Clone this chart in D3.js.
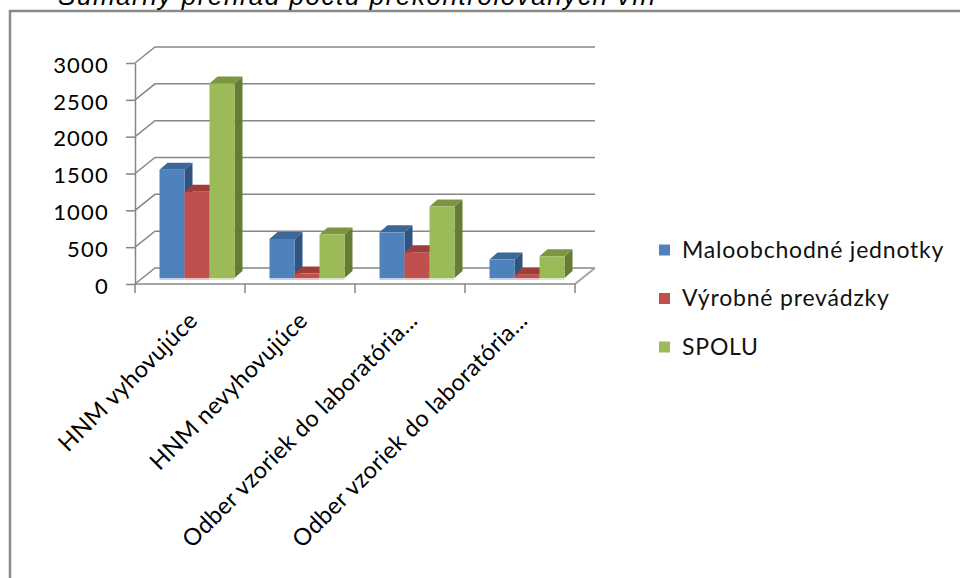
<!DOCTYPE html>
<html>
<head>
<meta charset="utf-8">
<script src="https://cdn.jsdelivr.net/npm/d3@7"></script>
<style>
  body { margin: 0; background: #fff; }
  svg { display: block; }
</style>
</head>
<body>
<div id="chart"></div>
<script>
var categories = ["HNM vyhovujúce", "HNM nevyhovujúce", "Odber vzoriek do laboratória...", "Odber vzoriek do laboratória..."];
var seriesNames = ["Maloobchodné jednotky", "Výrobné prevádzky", "SPOLU"];
var maloobchod = [1470, 530, 620, 250];
var vyroba = [1170, 60, 350, 45];
var spolu = [2640, 590, 970, 295];
var yTicks = [0, 500, 1000, 1500, 2000, 2500, 3000];
var title = "Sumárny prehľad počtu prekontrolovaných vín";

var seriesValues = [maloobchod, vyroba, spolu];
var colors = [
  {front: "#4F81BD", top: "#3D6797", side: "#2F5482"},
  {front: "#C0504D", top: "#9E3D3B", side: "#8A3331"},
  {front: "#9BBB59", top: "#7A9640", side: "#647D33"}
];

var width = 960, height = 578;
var font = "Lato, 'Open Sans', sans-serif";

var svg = d3.select("#chart")
  .append("svg")
    .attr("width", width)
    .attr("height", height);

// frame + title (title is cut by the top edge, as in the source)
svg.append("rect")
  .attr("x", 10).attr("y", 11)
  .attr("width", 1000).attr("height", 700)
  .attr("fill", "none")
  .attr("stroke", "#8a8a8a")
  .attr("stroke-width", 2.5);

svg.append("text")
  .attr("x", 58).attr("y", 5)
  .attr("textLength", 597)
  .style("font-family", "'Liberation Sans', Arial, sans-serif")
  .style("font-style", "italic")
  .style("font-size", "26px")
  .text(title);

// 3d geometry
var left = 135, right = 575;
var wall = {dx: 20, dy: -16};
var barFront = {dx: 7, dy: -6};
var barDepth = {dx: 8, dy: -7};

var y = d3.scaleLinear()
  .domain([0, 3000])
  .range([284, 63]);

var x0 = d3.scaleBand()
  .domain(d3.range(categories.length))
  .range([left, right]);

var x1 = d3.scaleBand()
  .domain(d3.range(seriesNames.length))
  .range([0, x0.bandwidth()])
  .paddingInner(0)
  .paddingOuter(0.7);

// back wall gridlines with the left side edge
var grid = svg.append("g");
yTicks.forEach(function(t) {
  grid.append("path")
    .attr("d", "M" + left + "," + y(t) +
               "L" + (left + wall.dx) + "," + (y(t) + wall.dy) +
               "L" + (right + wall.dx) + "," + (y(t) + wall.dy))
    .attr("fill", "none")
    .attr("stroke", "#868686")
    .attr("stroke-width", 1.5);
});

// floor
svg.append("path")
  .attr("d", "M" + left + "," + y(0) + "L" + right + "," + y(0) +
             "L" + (right + wall.dx) + "," + (y(0) + wall.dy))
  .attr("fill", "none")
  .attr("stroke", "#a6a6a6")
  .attr("stroke-width", 2);

// y axis
var yAxis = svg.append("g")
  .attr("transform", "translate(" + left + ",0)")
  .call(d3.axisLeft(y).tickValues(yTicks).tickFormat(d3.format("d"))
    .tickSize(9).tickPadding(17).tickSizeOuter(0));
yAxis.select(".domain").attr("stroke", "#868686").attr("stroke-width", 1.5);
yAxis.selectAll(".tick line").attr("stroke", "#868686").attr("stroke-width", 1.5);
yAxis.selectAll("text")
  .style("font-family", font)
  .style("font-size", "22px")
  .style("letter-spacing", "1.2px")
  .attr("fill", "#000")
  .attr("dy", "0.42em");

// x ticks at band edges
var xEdges = d3.range(categories.length).map(function(i) { return x0(i); }).concat([right]);
svg.append("g").selectAll("line")
  .data(xEdges)
  .enter()
  .append("line")
    .attr("x1", function(d) { return d; })
    .attr("x2", function(d) { return d; })
    .attr("y1", y(0))
    .attr("y2", y(0) + 9)
    .attr("stroke", "#868686")
    .attr("stroke-width", 1.5);

// category labels, rotated
svg.append("g").selectAll("text")
  .data(categories)
  .enter()
  .append("text")
    .attr("transform", function(d, i) {
      var cx = x0(i) + x0.bandwidth() / 2;
      return "translate(" + (cx + 9) + "," + 322 + ")rotate(-45)";
    })
    .attr("text-anchor", "end")
    .style("font-family", font)
    .style("font-size", "23.5px")
    .style("letter-spacing", "0.3px")
    .attr("fill", "#000")
    .text(function(d) { return d; });

// bars
var bars = [];
categories.forEach(function(c, i) {
  seriesValues.forEach(function(vals, s) {
    bars.push({cat: i, s: s, value: vals[i]});
  });
});

var barG = svg.append("g");
bars.forEach(function(d) {
  var bx = x0(d.cat) + x1(d.s) + barFront.dx;
  var bw = x1.bandwidth();
  var top = y(d.value) + barFront.dy;
  var bottom = y(0) + barFront.dy;
  var c = colors[d.s];
  var g = barG.append("g");

  // reflection strip
  g.append("rect")
    .attr("x", bx).attr("y", bottom)
    .attr("width", bw).attr("height", 2)
    .attr("fill", c.front)
    .attr("opacity", 0.35);

  g.append("path")
    .attr("d", "M" + (bx + bw) + "," + top +
               "L" + (bx + bw + barDepth.dx) + "," + (top + barDepth.dy) +
               "L" + (bx + bw + barDepth.dx) + "," + (bottom + barDepth.dy) +
               "L" + (bx + bw) + "," + bottom + "Z")
    .attr("fill", c.side);

  g.append("path")
    .attr("d", "M" + bx + "," + top +
               "L" + (bx + barDepth.dx) + "," + (top + barDepth.dy) +
               "L" + (bx + bw + barDepth.dx) + "," + (top + barDepth.dy) +
               "L" + (bx + bw) + "," + top + "Z")
    .attr("fill", c.top);

  g.append("rect")
    .attr("x", bx).attr("y", top)
    .attr("width", bw).attr("height", bottom - top)
    .attr("fill", c.front);
});

// legend
var legend = svg.append("g").selectAll("g")
  .data(seriesNames)
  .enter()
  .append("g")
    .attr("transform", function(d, i) { return "translate(659," + (250 + i * 48.5) + ")"; });

legend.append("rect")
  .attr("x", 0).attr("y", -5.5)
  .attr("width", 11).attr("height", 11)
  .attr("fill", function(d, i) { return colors[i].front; });

legend.append("text")
  .attr("x", 23).attr("y", 7.5)
  .style("font-family", font)
  .style("font-size", "23px")
  .style("letter-spacing", "0.8px")
  .attr("fill", "#111")
  .text(function(d) { return d; });
</script>
</body>
</html>
